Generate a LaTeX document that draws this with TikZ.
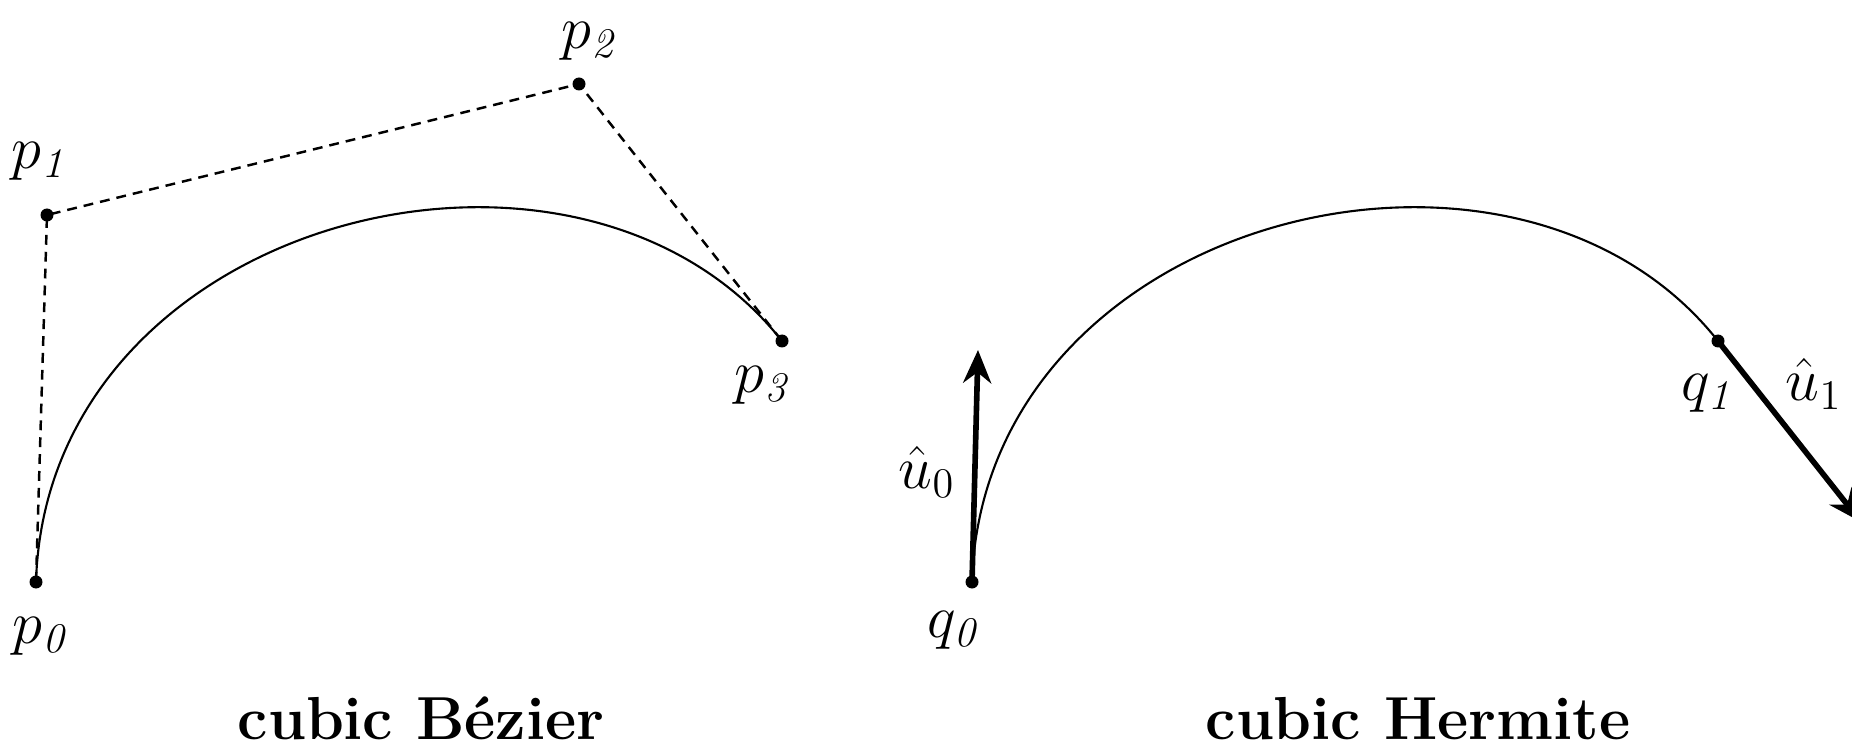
\documentclass[tikz,border=0pt]{standalone}
\usepackage{amsmath,amssymb}
\usetikzlibrary{arrows.meta,positioning,calc,backgrounds}
\tikzset{
  >={Stealth[length=3.3mm,width=2.8mm]},
  % kurvor
  cp/.style={circle,fill=black,inner sep=0pt,minimum size=1.3mm},
  ctrl/.style={draw=black,line width=0.7pt,dash pattern=on 2.8pt off 2pt},
  crv/.style={draw=black,line width=0.6pt},
  tng/.style={->,draw=black,line width=1.6pt},
  lbl/.style={inner sep=0pt,font=\LARGE},
  ttl/.style={anchor=base,inner sep=0pt,font=\LARGE\bfseries},
}
\begin{document}
\begin{tikzpicture}
  \useasboundingbox (0,0) rectangle (18.52,7.47);
  % Bezier
  \node[cp] (p0) at (0.36,1.65) {};
  \node[cp] (p1) at (0.47,5.32) {};
  \node[cp] (p2) at (5.79,6.63) {};
  \node[cp] (p3) at (7.82,4.06) {};
  \node[lbl] (p0l) at (0.42,1.11) {$p_{\mathit{0}}$};
  \node[lbl] (p1l) at (0.41,5.86) {$p_{\mathit{1}}$};
  \node[lbl] (p2l) at (5.91,7.06) {$p_{\mathit{2}}$};
  \node[lbl] (p3l) at (7.64,3.62) {$p_{\mathit{3}}$};
  \begin{scope}[on background layer]
  \draw[ctrl] (p0.center) -- (p1.center) -- (p2.center) -- (p3.center);
  \draw[crv] (p0.center) .. controls (p1.center) and (p2.center) .. (p3.center);
  \end{scope}
  \node[ttl] (bez) at (4.21,0.08) {cubic Bézier};
  % Hermite
  \node[cp] (q0) at (9.72,1.65) {};
  \node[cp] (q1) at (17.18,4.06) {};
  \coordinate (u0) at (9.78,3.97);
  \coordinate (u1) at (18.61,2.25);
  \begin{scope}[on background layer]
  \draw[crv] (q0.center) .. controls ($(q0)+(0.11,3.67)$) and ($(q1)+(-2.03,2.57)$) .. (q1.center);
  \end{scope}
  \draw[tng] (q0.center) -- (u0);
  \draw[tng] (q1.center) -- (u1);
  \node[lbl] (q0l) at (9.55,1.17) {$q_{\mathit{0}}$};
  \node[lbl] (q1l) at (17.09,3.54) {$q_{\mathit{1}}$};
  \node[lbl] (u0l) at (9.27,2.75) {$\hat{u}_0$};
  \node[lbl] (u1l) at (18.14,3.63) {$\hat{u}_1$};
  \node[ttl] (her) at (14.18,0.08) {cubic Hermite};
\end{tikzpicture}
\end{document}
